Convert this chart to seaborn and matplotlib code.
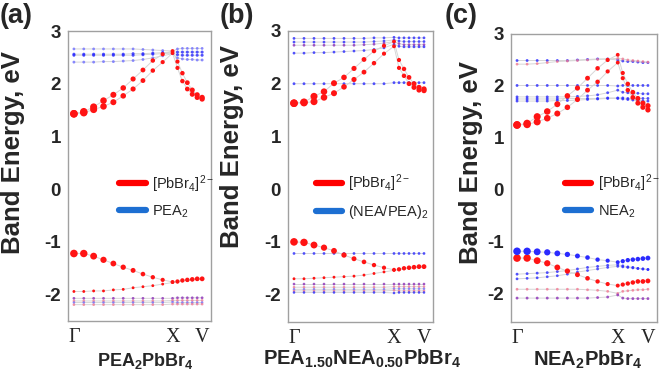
import matplotlib
matplotlib.use("Agg")
import matplotlib.pyplot as plt
from matplotlib.lines import Line2D
import seaborn as sns
import pandas as pd

# ---------------- data ----------------
K = [0.0, 0.1, 0.2, 0.3, 0.4, 0.5, 0.6, 0.7, 0.8, 0.9, 1.0,
     1.05, 1.10, 1.15, 1.20, 1.25, 1.30]
KTICKS = [0.0, 1.0, 1.30]
KLABELS = ["Γ", "X", "V"]
YTICKS = [-2, -1, 0, 1, 2, 3]
YTICKLABELS = ["-2", "-1", "0", "1", "2", "3"]

W_CB = [1.0, 0.95, 0.85, 0.72, 0.6, 0.5, 0.42, 0.36, 0.3, 0.25, 0.2,
        0.25, 0.3, 0.35, 0.4, 0.42, 0.45]
W_VB = [1.0, 0.95, 0.8, 0.65, 0.55, 0.45, 0.38, 0.32, 0.28, 0.25, 0.22,
        0.26, 0.28, 0.3, 0.32, 0.34, 0.36]

# panel (a) PEA2PbBr4
A_CB_LO = [1.43, 1.45, 1.51, 1.57, 1.65, 1.77, 1.90, 2.06, 2.25, 2.41, 2.58, 2.30, 2.05, 1.90, 1.80, 1.74, 1.71]
A_CB_HI = [1.43, 1.47, 1.56, 1.68, 1.79, 1.92, 2.09, 2.26, 2.44, 2.56, 2.62, 2.42, 2.20, 2.02, 1.88, 1.79, 1.74]
A_VB_HI = [-1.22, -1.22, -1.27, -1.34, -1.41, -1.48, -1.54, -1.61, -1.67, -1.72, -1.76, -1.75, -1.73, -1.72, -1.71, -1.70, -1.70]
A_VB_LO = [-1.94, -1.94, -1.93, -1.93, -1.91, -1.90, -1.87, -1.85, -1.83, -1.80, -1.77, -1.76, -1.74, -1.73, -1.72, -1.71, -1.70]
A_ORG1 = [2.66, 2.66, 2.66, 2.66, 2.66, 2.66, 2.66, 2.65, 2.64, 2.63, 2.62, 2.66, 2.67, 2.67, 2.67, 2.67, 2.67]
A_ORG2 = [2.56, 2.56, 2.56, 2.56, 2.56, 2.56, 2.57, 2.57, 2.58, 2.59, 2.60, 2.60, 2.60, 2.60, 2.60, 2.60, 2.60]
A_ORG3 = [2.54, 2.54, 2.54, 2.54, 2.54, 2.54, 2.54, 2.55, 2.56, 2.57, 2.58, 2.55, 2.54, 2.54, 2.54, 2.54, 2.54]
A_ORG4 = [2.41, 2.41, 2.41, 2.42, 2.42, 2.43, 2.44, 2.46, 2.49, 2.53, 2.57, 2.49, 2.47, 2.46, 2.46, 2.45, 2.45]
A_LOW1 = [-2.07, -2.07, -2.07, -2.07, -2.07, -2.07, -2.07, -2.07, -2.07, -2.07, -2.07, -2.06, -2.06, -2.06, -2.06, -2.06, -2.06]
A_LOW2 = [-2.12, -2.12, -2.12, -2.12, -2.12, -2.12, -2.12, -2.12, -2.12, -2.12, -2.11, -2.11, -2.11, -2.11, -2.11, -2.11, -2.11]
A_LOW3 = [-2.15, -2.15, -2.15, -2.15, -2.15, -2.15, -2.15, -2.15, -2.15, -2.15, -2.14, -2.15, -2.15, -2.15, -2.15, -2.15, -2.15]
A_LOW4 = [-2.19, -2.19, -2.19, -2.19, -2.19, -2.19, -2.19, -2.19, -2.19, -2.19, -2.18, -2.18, -2.18, -2.18, -2.18, -2.18, -2.18]

# panel (b) PEA1.50NEA0.50PbBr4
B_CB_LO = [1.63, 1.64, 1.66, 1.74, 1.82, 1.94, 2.08, 2.22, 2.39, 2.57, 2.71, 2.30, 2.15, 2.00, 1.93, 1.88, 1.87]
B_CB_HI = [1.63, 1.65, 1.76, 1.85, 2.01, 2.12, 2.29, 2.46, 2.62, 2.72, 2.80, 2.45, 2.28, 2.12, 2.00, 1.93, 1.90]
B_VB_HI = [-1.00, -1.01, -1.06, -1.11, -1.17, -1.25, -1.32, -1.38, -1.44, -1.49, -1.53, -1.52, -1.50, -1.49, -1.48, -1.47, -1.47]
B_VB_LO = [-1.70, -1.70, -1.69, -1.68, -1.67, -1.66, -1.65, -1.63, -1.60, -1.57, -1.54, -1.53, -1.51, -1.50, -1.49, -1.48, -1.47]
B_ORG1 = [2.86, 2.86, 2.86, 2.86, 2.86, 2.86, 2.86, 2.86, 2.87, 2.87, 2.88, 2.87, 2.87, 2.87, 2.87, 2.87, 2.87]
B_ORG2 = [2.79, 2.79, 2.79, 2.79, 2.79, 2.79, 2.79, 2.79, 2.80, 2.81, 2.83, 2.81, 2.80, 2.80, 2.80, 2.80, 2.80]
B_ORG3 = [2.73, 2.73, 2.73, 2.73, 2.73, 2.73, 2.73, 2.74, 2.75, 2.77, 2.80, 2.76, 2.74, 2.74, 2.74, 2.74, 2.74]
B_ORG4 = [2.58, 2.58, 2.59, 2.59, 2.60, 2.61, 2.62, 2.63, 2.65, 2.68, 2.75, 2.71, 2.70, 2.70, 2.70, 2.70, 2.70]
B_ORG5 = [2.00, 2.00, 2.00, 2.00, 2.00, 2.00, 2.00, 2.00, 2.00, 2.00, 2.02, 2.02, 2.02, 2.02, 2.02, 2.02, 2.02]
B_ORG6 = [-1.22, -1.22, -1.22, -1.22, -1.22, -1.22, -1.22, -1.22, -1.22, -1.22, -1.22, -1.22, -1.22, -1.22, -1.22, -1.22, -1.22]
B_LOW1 = [-1.80, -1.80, -1.80, -1.80, -1.80, -1.80, -1.80, -1.80, -1.80, -1.80, -1.80, -1.80, -1.80, -1.80, -1.80, -1.80, -1.80]
B_LOW2 = [-1.86, -1.86, -1.86, -1.86, -1.86, -1.86, -1.86, -1.86, -1.86, -1.86, -1.85, -1.85, -1.85, -1.85, -1.85, -1.85, -1.85]
B_LOW3 = [-1.90, -1.90, -1.90, -1.90, -1.90, -1.90, -1.90, -1.90, -1.90, -1.90, -1.89, -1.89, -1.89, -1.89, -1.89, -1.89, -1.89]
B_LOW4 = [-1.93, -1.93, -1.93, -1.93, -1.93, -1.93, -1.93, -1.93, -1.93, -1.93, -1.92, -1.93, -1.93, -1.93, -1.93, -1.93, -1.93]
B_LOW5 = [-1.96, -1.96, -1.96, -1.96, -1.96, -1.96, -1.96, -1.96, -1.96, -1.96, -1.97, -1.96, -1.96, -1.96, -1.96, -1.96, -1.96]

# panel (c) NEA2PbBr4
C_CB_LO = [1.25, 1.26, 1.31, 1.38, 1.47, 1.59, 1.74, 1.92, 2.08, 2.28, 2.45, 2.15, 1.92, 1.78, 1.67, 1.59, 1.54]
C_CB_HI = [1.25, 1.28, 1.41, 1.51, 1.65, 1.81, 1.96, 2.15, 2.34, 2.50, 2.60, 2.25, 2.04, 1.88, 1.76, 1.67, 1.62]
C_VB_ORG = [-1.18, -1.18, -1.19, -1.20, -1.22, -1.24, -1.27, -1.30, -1.34, -1.36, -1.39, -1.37, -1.35, -1.34, -1.33, -1.32, -1.31]
C_VB_PB = [-1.31, -1.31, -1.36, -1.41, -1.49, -1.56, -1.63, -1.70, -1.76, -1.81, -1.84, -1.82, -1.80, -1.78, -1.76, -1.76, -1.75]
C_VB_M1 = [-1.62, -1.61, -1.60, -1.59, -1.57, -1.55, -1.52, -1.49, -1.47, -1.45, -1.44, -1.46, -1.48, -1.49, -1.51, -1.52, -1.53]
C_VB_M2 = [-1.71, -1.70, -1.69, -1.67, -1.65, -1.62, -1.58, -1.55, -1.52, -1.49, -1.47, -1.48, -1.49, -1.50, -1.51, -1.52, -1.53]
C_VB_L1 = [-1.91, -1.91, -1.91, -1.91, -1.91, -1.91, -1.91, -1.92, -1.93, -1.95, -1.99, -1.95, -1.94, -1.93, -1.92, -1.92, -1.91]
C_VB_L2 = [-2.08, -2.08, -2.08, -2.08, -2.08, -2.08, -2.08, -2.08, -2.07, -2.06, -2.02, -2.08, -2.09, -2.09, -2.09, -2.09, -2.09]
C_ORG1 = [2.49, 2.49, 2.49, 2.49, 2.49, 2.49, 2.50, 2.51, 2.52, 2.52, 2.50, 2.48, 2.47, 2.47, 2.46, 2.45, 2.45]
C_ORG2 = [2.42, 2.42, 2.43, 2.45, 2.47, 2.48, 2.49, 2.50, 2.51, 2.52, 2.53, 2.52, 2.50, 2.49, 2.48, 2.47, 2.46]
C_ORG3 = [2.01, 2.01, 2.01, 2.01, 2.01, 2.01, 2.01, 2.01, 2.01, 2.01, 2.00, 2.01, 2.01, 2.01, 2.01, 2.01, 2.01]
C_ORG4 = [1.79, 1.79, 1.79, 1.79, 1.79, 1.79, 1.80, 1.81, 1.83, 1.87, 1.92, 1.88, 1.87, 1.86, 1.86, 1.85, 1.85]
C_ORG5 = [1.75, 1.75, 1.75, 1.75, 1.75, 1.76, 1.76, 1.76, 1.76, 1.77, 1.77, 1.77, 1.76, 1.76, 1.76, 1.76, 1.76]
C_ORG6 = [1.71, 1.71, 1.71, 1.71, 1.72, 1.72, 1.73, 1.74, 1.75, 1.76, 1.76, 1.75, 1.74, 1.73, 1.72, 1.71, 1.71]

LEGEND_PB = r"[PbBr$_4$]$^{2-}$"
LEGEND_ORG = [r"PEA$_2$", r"(NEA/PEA)$_2$", r"NEA$_2$"]
XLABELS = [r"PEA$_\mathbf{2}$PbBr$_\mathbf{4}$",
           r"PEA$_\mathbf{1.50}$NEA$_\mathbf{0.50}$PbBr$_\mathbf{4}$",
           r"NEA$_\mathbf{2}$PbBr$_\mathbf{4}$"]
PANEL_TAGS = ["(a)", "(b)", "(c)"]
YLABEL = "Band Energy, eV"

# ---------------- style ----------------
sns.set_theme(style="white")
plt.rcParams["font.family"] = ["Liberation Sans", "DejaVu Sans"]
plt.rcParams["mathtext.fontset"] = "custom"
plt.rcParams["mathtext.rm"] = "Liberation Sans"
plt.rcParams["mathtext.it"] = "Liberation Sans:italic"
plt.rcParams["mathtext.bf"] = "Liberation Sans:bold"

PAL = {"pb": "#ff1414", "org": "#2a2aff", "orgf": "#6f6fff",
       "mix": "#8c2fb8", "pink": "#f27a93"}

SPECS = [
    [("a1", A_ORG1, "orgf", 0.07), ("a2", A_ORG2, "org", 0.1), ("a3", A_ORG3, "org", 0.1),
     ("a4", A_ORG4, "orgf", 0.08), ("a5", A_LOW1, "mix", 0.07), ("a6", A_LOW2, "pink", 0.06),
     ("a7", A_LOW3, "orgf", 0.05), ("a8", A_LOW4, "pink", 0.06), ("a9", A_VB_LO, "pb", 0.08),
     ("a10", A_CB_LO, "pb", W_CB), ("a11", A_CB_HI, "pb", W_CB), ("a12", A_VB_HI, "pb", W_VB)],
    [("b1", B_ORG1, "org", 0.07), ("b2", B_ORG2, "org", 0.07), ("b3", B_ORG3, "mix", 0.07),
     ("b4", B_ORG4, "org", 0.07), ("b5", B_ORG5, "org", 0.08), ("b6", B_ORG6, "org", 0.07),
     ("b7", B_LOW1, "mix", 0.06), ("b8", B_LOW2, "pink", 0.05), ("b9", B_LOW3, "orgf", 0.05),
     ("b10", B_LOW4, "pink", 0.05), ("b11", B_LOW5, "org", 0.05), ("b12", B_VB_LO, "pb", 0.08),
     ("b13", B_CB_LO, "pb", W_CB), ("b14", B_CB_HI, "pb", W_CB), ("b15", B_VB_HI, "pb", W_VB)],
    [("c1", C_ORG1, "org", 0.08), ("c2", C_ORG2, "pink", 0.07), ("c3", C_ORG3, "org", 0.08),
     ("c4", C_ORG4, "org", 0.08), ("c5", C_ORG5, "org", 0.08), ("c6", C_ORG6, "org", 0.08),
     ("c7", C_VB_M1, "org", 0.08), ("c8", C_VB_M2, "org", 0.07), ("c9", C_VB_L1, "pink", 0.07),
     ("c10", C_VB_L2, "mix", 0.08), ("c11", C_CB_LO, "pb", W_CB), ("c12", C_CB_HI, "pb", W_CB),
     ("c13", C_VB_PB, "pb", W_VB), ("c14", C_VB_ORG, "org", W_VB)],
]


def frame(spec):
    rows = []
    for order, (name, vals, kind, w) in enumerate(spec):
        ws = w if isinstance(w, list) else [w] * len(K)
        for k, e, wi in zip(K, vals, ws):
            rows.append(dict(band=name, k=k, E=e, kind=kind, w=wi, order=order))
    return pd.DataFrame(rows)


# geometry in pixels (left, top, right, bottom) for a 660x372 canvas
BOXES = [(68, 31, 211, 321), (288, 31, 433, 322), (511, 34, 657, 322)]
YLIMS = [(-2.5, 3.0), (-2.52, 3.0), (-2.54, 3.0)]
LEG_X = [0.36, 0.19, 0.37]
LEG_Y = [0.43, 0.43, 0.437]
YLAB_POS = [(13, 153), (232, 147), (471, 163)]
XLAB_POS = [(145, 361, 13), (362, 359, 14.5), (588, 360, 14.5)]
TAG_X = [0, 220, 445]

W, H = 660, 372
fig = plt.figure(figsize=(W / 100, H / 100), dpi=100)

for i in range(3):
    l, t, r, b = BOXES[i]
    ax = fig.add_axes([l / W, 1 - b / H, (r - l) / W, (b - t) / H])
    d = frame(SPECS[i])
    sns.lineplot(data=d, x="k", y="E", units="band", estimator=None, sort=False,
                 color="#d6d6d6", lw=0.7, ax=ax, legend=False, zorder=1)
    minor = d[~d["kind"].eq("pb") & ~d["band"].isin(["c14"])]
    major = d[d["kind"].eq("pb") | d["band"].isin(["c14"])]
    sns.scatterplot(data=minor, x="k", y="E", hue="kind", palette=PAL, size="w",
                    sizes=(2, 30), size_norm=(0, 1), linewidth=0, alpha=0.8,
                    legend=False, ax=ax, zorder=3)
    sns.scatterplot(data=major, x="k", y="E", hue="kind", palette=PAL, size="w",
                    sizes=(2, 30), size_norm=(0, 1), linewidth=0, alpha=1.0,
                    legend=False, ax=ax, zorder=4)
    ax.set_xlim(-0.06, 1.39)
    ax.set_ylim(*YLIMS[i])
    ax.set_xticks(KTICKS)
    ax.set_xticklabels(KLABELS, fontfamily="Liberation Serif", fontsize=14.5)
    ax.set_yticks(YTICKS)
    ax.set_yticklabels(YTICKLABELS, fontsize=13.5, fontweight="bold")
    ax.tick_params(axis="both", direction="out", length=3, width=0.8,
                   color="#9a9a9a", pad=2)
    ax.tick_params(axis="x", pad=2)
    ax.set_xlabel("")
    ax.set_ylabel("")
    for s in ax.spines.values():
        s.set_color("#a0a0a0")
        s.set_linewidth(1.0)
    handles = [Line2D([0], [0], color="#ff0000", lw=4.5),
               Line2D([0], [0], color="#1d6fd2", lw=4.5)]
    ax.legend(handles, [LEGEND_PB, LEGEND_ORG[i]], loc="center left",
              bbox_to_anchor=(LEG_X[i], LEG_Y[i]), frameon=False, borderpad=0,
              borderaxespad=0, handlelength=1.8, handletextpad=0.45,
              labelspacing=0.6, fontsize=10.5)
    yx, yy = YLAB_POS[i]
    fig.text(yx / W, 1 - yy / H, YLABEL, rotation=90, ha="center", va="center",
             fontsize=18.5, fontweight="bold")
    xx, xy, fs = XLAB_POS[i]
    fig.text(xx / W, 1 - xy / H, XLABELS[i], ha="center", va="center",
             fontsize=fs, fontweight="bold")
    fig.text(TAG_X[i] / W, 1 - 3 / H, PANEL_TAGS[i], ha="left", va="top",
             fontsize=19.5, fontweight="bold")

fig.savefig("out.png", dpi=100)
